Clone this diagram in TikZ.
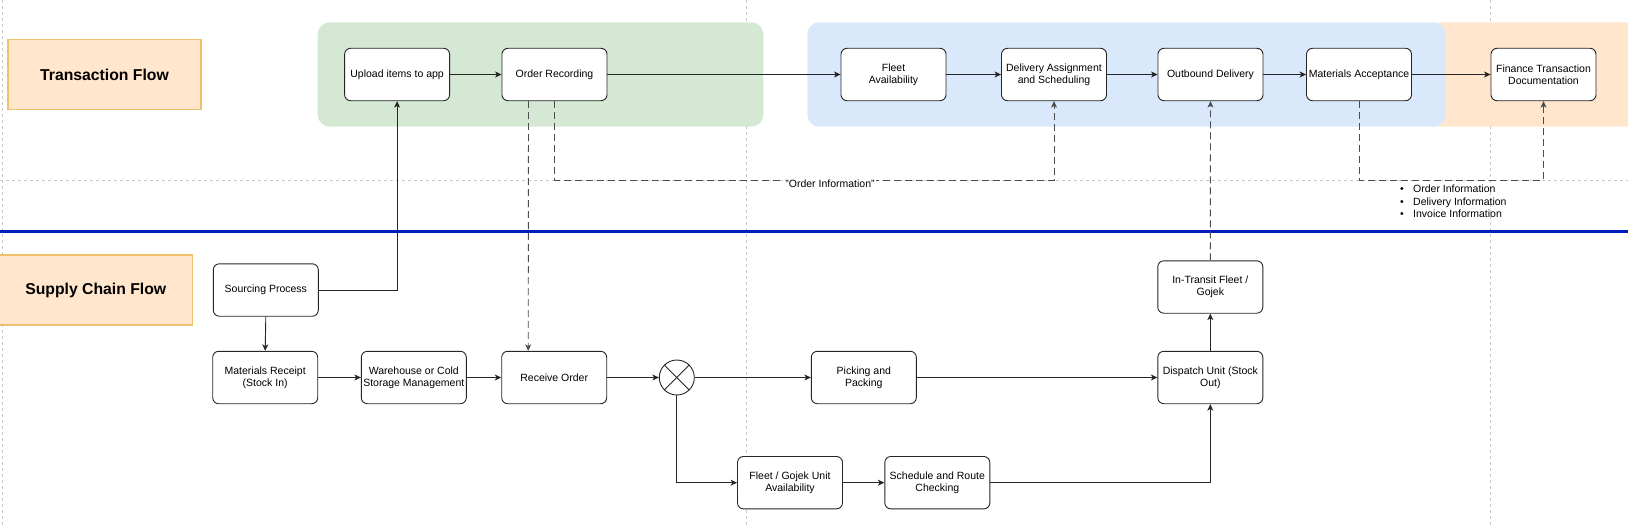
\documentclass[tikz,border=0pt]{standalone}
\usepackage{fontspec}
\setmainfont{Liberation Sans}
\usetikzlibrary{arrows.meta}
\definecolor{grn}{HTML}{D5E8D4}
\definecolor{blu}{HTML}{DAE8FC}
\definecolor{org}{HTML}{FFE6CC}
\definecolor{ttl}{HTML}{EEC26B}
\definecolor{pb}{HTML}{C8C8C8}
\definecolor{lane}{HTML}{001DBC}
\begin{document}
\begin{tikzpicture}[x=1pt,y=-1pt,
  box/.style={draw=black!85, line width=0.9pt, rounded corners=6pt, fill=white,
    minimum width=105pt, minimum height=52.4pt, inner sep=0pt, align=center,
    font=\fontsize{10.5}{12}\selectfont},
  titlebox/.style={draw=ttl, line width=1.2pt, fill=org, minimum width=193pt,
    minimum height=70pt, inner sep=0pt, font=\fontsize{15.75}{18}\selectfont\bfseries},
  arr/.style={draw=black!85, line width=0.9pt, -{Stealth[length=6.5pt,width=6pt,inset=1.8pt]}},
  dsh/.style={draw=black!70, line width=0.9pt, dash pattern=on 7pt off 4pt},
  dsharr/.style={dsh, -{Stealth[length=6.5pt,width=6pt,inset=1.8pt]}},
  pgbrk/.style={draw=pb, line width=0.9pt, dash pattern=on 3pt off 3pt},
  smalltext/.style={font=\fontsize{10.5}{12.5}\selectfont, inner sep=1pt}
]
\useasboundingbox (0,0) rectangle (1628,527);

% page breaks
\draw[pgbrk] (2.7,0) -- (2.7,527);
\draw[pgbrk] (746.7,0) -- (746.7,527);
\draw[pgbrk] (1490.5,0) -- (1490.5,527);
\draw[pgbrk] (0,180) -- (1628,180);

% containers
\fill[grn, rounded corners=12pt] (317.7,22.3) rectangle (763.3,126.7);
\fill[org, rounded corners=12pt] (1428.7,22.3) rectangle (1660,126.7);
\fill[blu, rounded corners=12pt] (807.3,22.3) rectangle (1445.5,126.7);

% lane separator
\draw[lane, line width=3pt] (0,231.7) -- (1628,231.7);

% titles
\node[titlebox] (tflow) at (104.5,74.5) {Transaction Flow};
\node[titlebox] (sflow) at (95.7,290) {Supply Chain Flow};

% top row
\node[box] (up) at (397.1,74.5) {Upload items to app};
\node[box] (orec) at (554.5,74.5) {Order Recording};
\node[box] (fleet) at (893.5,74.5) {Fleet\\Availability};
\node[box] (das) at (1054,74.5) {Delivery Assignment\\and Scheduling};
\node[box] (outb) at (1210.5,74.5) {Outbound Delivery};
\node[box] (macc) at (1359,74.5) {Materials Acceptance};
\node[box] (fin) at (1543.5,74.5) {Finance Transaction\\Documentation};

% bottom
\node[box] (src) at (265.8,290) {Sourcing Process};
\node[box] (mrec) at (265.2,377.5) {Materials Receipt\\(Stock In)};
\node[box] (wh) at (413.8,377.5) {Warehouse or Cold\\Storage Management};
\node[box] (ro) at (554.2,377.5) {Receive Order};
\node[draw=black!85, line width=0.9pt, circle, minimum size=35pt, inner sep=0pt, fill=white] (gate) at (676.8,377.5) {};
\draw[black!85, line width=0.9pt] (gate.north west) -- (gate.south east);
\draw[black!85, line width=0.9pt] (gate.north east) -- (gate.south west);
\node[box] (pick) at (863.8,377.5) {Picking and\\Packing};
\node[box] (disp) at (1210.3,377.5) {Dispatch Unit (Stock\\Out)};
\node[box] (trans) at (1210.3,287) {In-Transit Fleet /\\Gojek};
\node[box] (fga) at (790,482.7) {Fleet / Gojek Unit\\Availability};
\node[box] (sch) at (937.3,482.7) {Schedule and Route\\Checking};

% top connectors
\draw[arr] (up.east) -- (orec.west);
\draw[arr] (orec.east) -- (fleet.west);
\draw[arr] (fleet.east) -- (das.west);
\draw[arr] (das.east) -- (outb.west);
\draw[arr] (outb.east) -- (macc.west);
\draw[arr] (macc.east) -- (fin.west);

% bottom connectors
\draw[arr] (src.east) -| (up.south);
\draw[arr] (src.south) -- (mrec.north);
\draw[arr] (mrec.east) -- (wh.west);
\draw[arr] (wh.east) -- (ro.west);
\draw[arr] (ro.east) -- (gate.west);
\draw[arr] (gate.east) -- (pick.west);
\draw[arr] (gate.south) |- (fga.west);
\draw[arr] (pick.east) -- (disp.west);
\draw[arr] (fga.east) -- (sch.west);
\draw[arr] (sch.east) -| (disp.south);
\draw[arr] (disp.north) -- (trans.south);

% dashed information flows
\coordinate (oiturn) at (554.5,180);
\coordinate (miturn) at (1359,180);
\draw[dsharr] (orec.south) -- (oiturn) -| (das.south);
\draw[dsharr] ([xshift=-26pt]orec.south) -- ([xshift=-26pt]ro.north);
\draw[dsharr] (macc.south) -- (miturn) -| (fin.south);
\draw[dsharr] (trans.north) -- (outb.south);

\node[smalltext, fill=white] (oilbl) at (830,183.5) {"Order Information"};
\node[smalltext, anchor=north west, align=left, inner sep=0pt] (bul) at (1400,185)
  {\makebox[13pt][l]{•}Order Information\\\makebox[13pt][l]{•}Delivery Information\\\makebox[13pt][l]{•}Invoice Information};
\end{tikzpicture}
\end{document}
